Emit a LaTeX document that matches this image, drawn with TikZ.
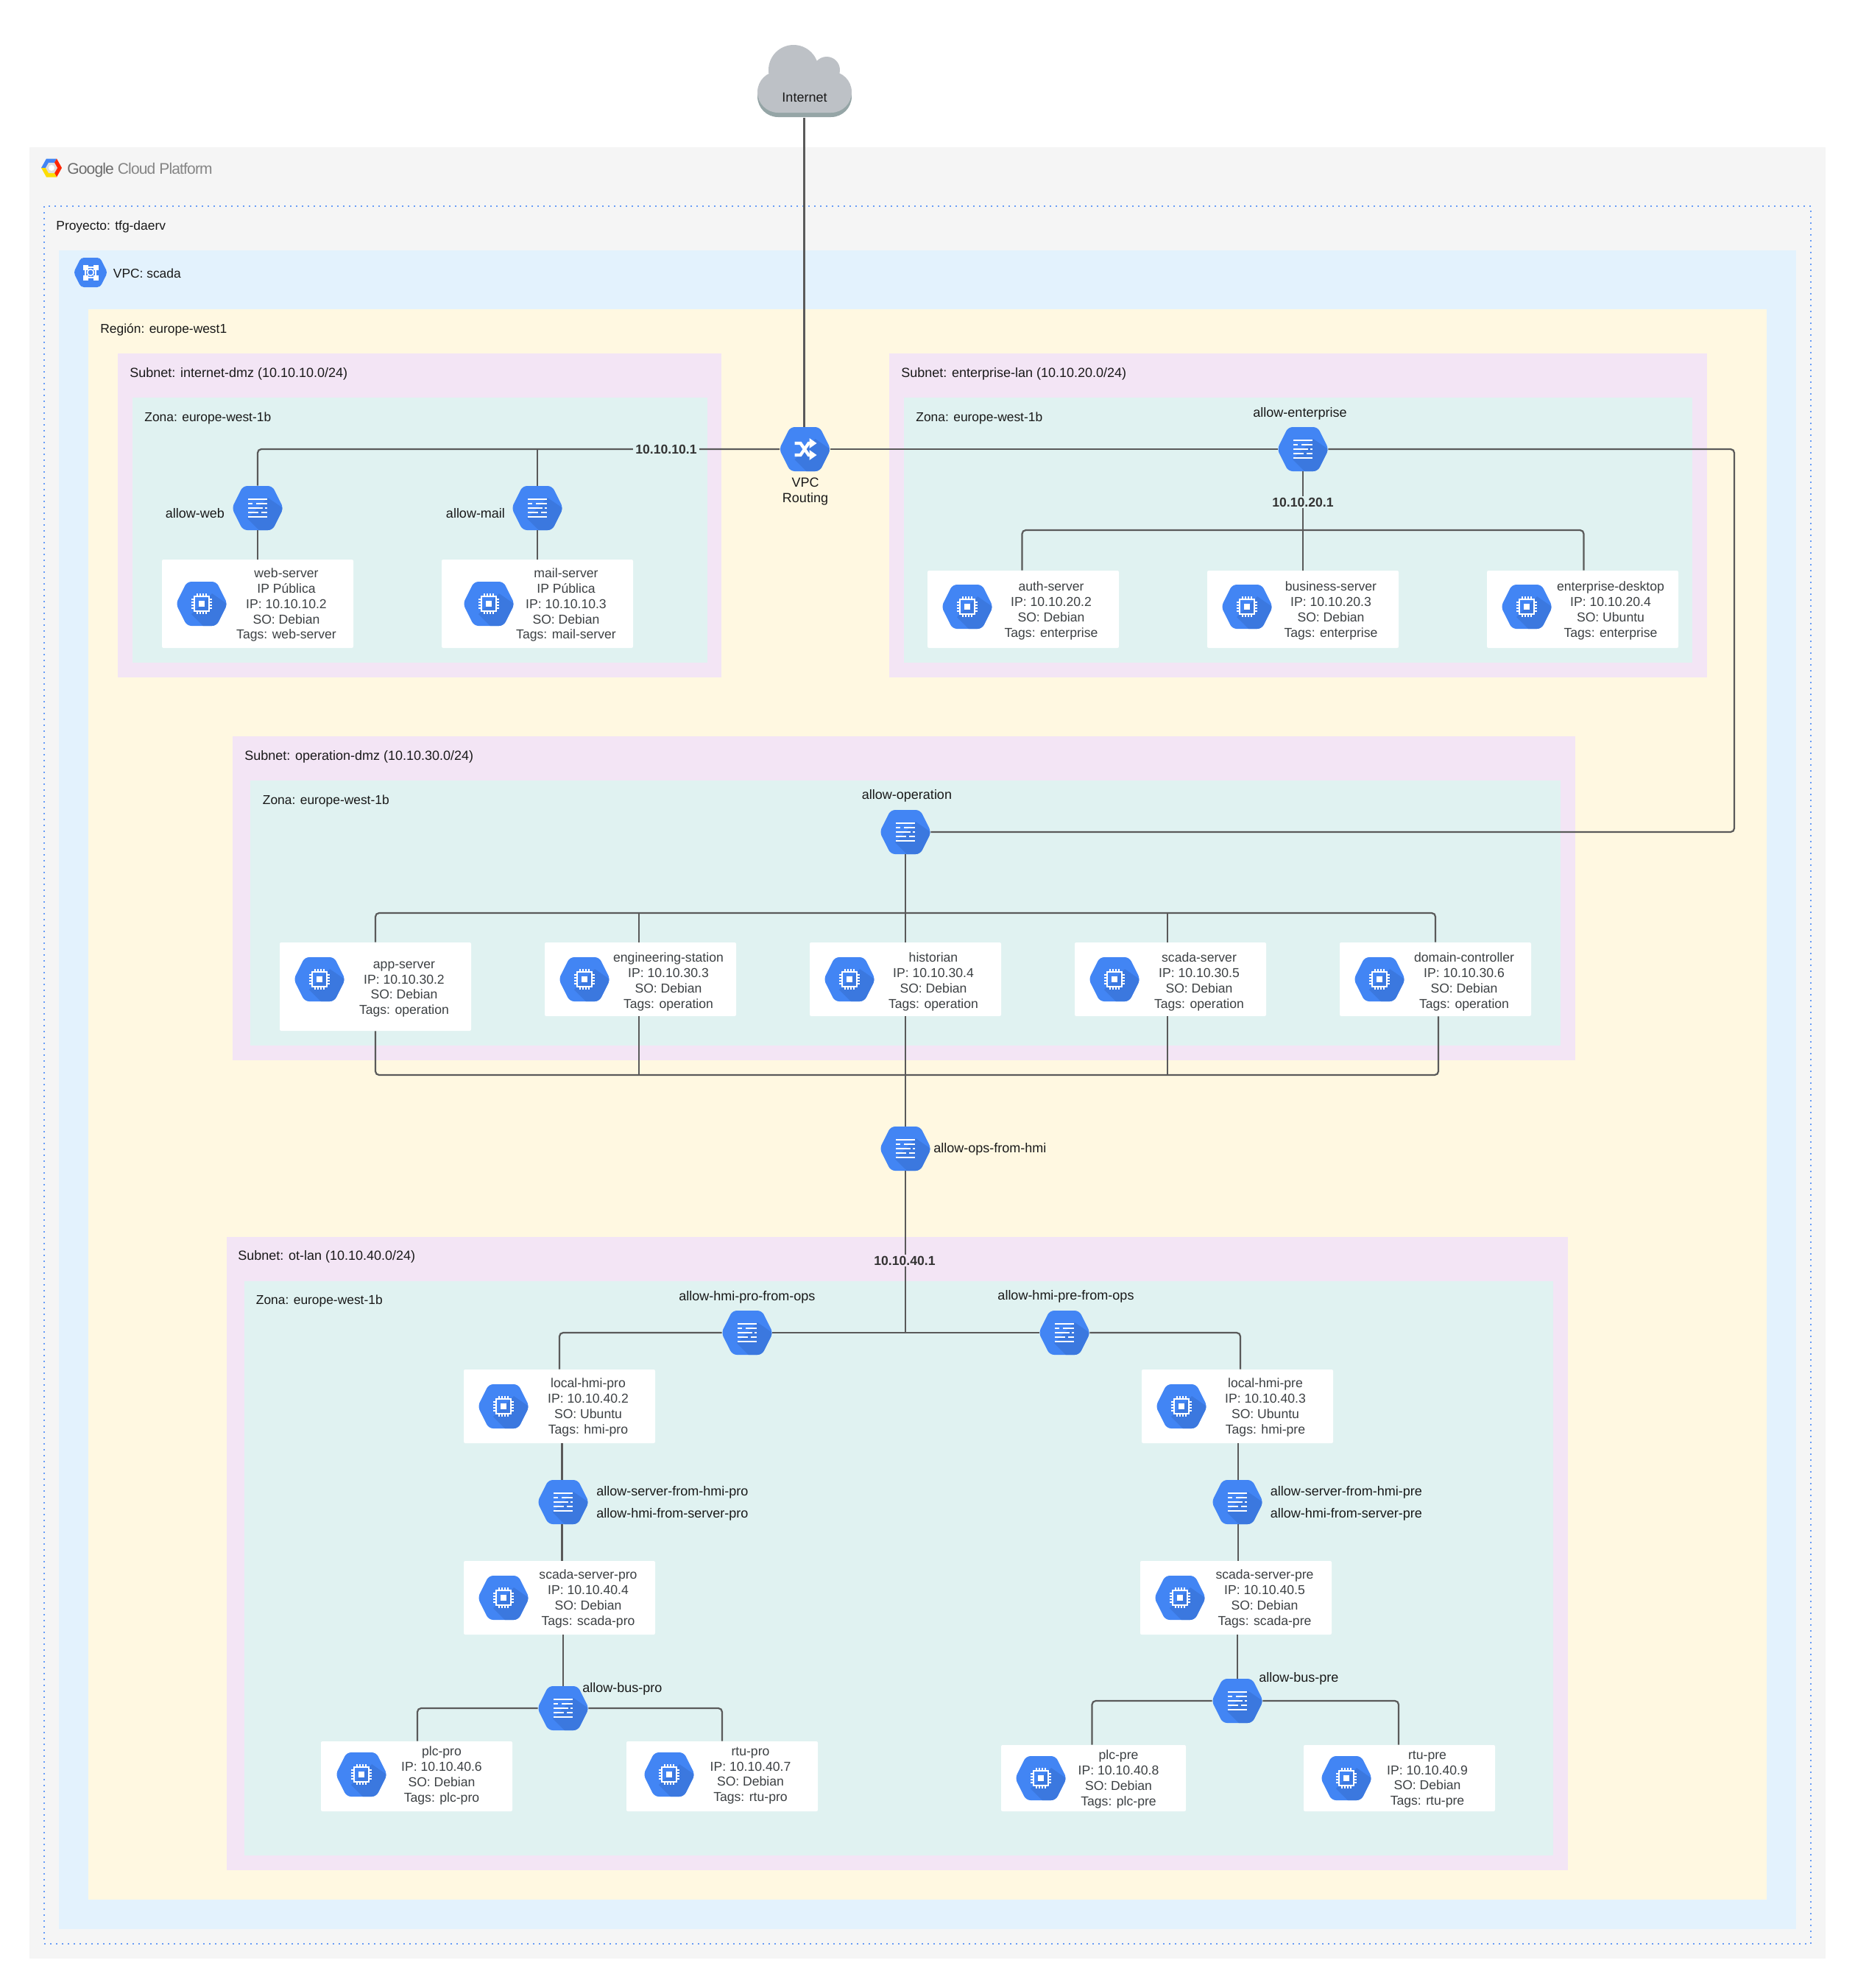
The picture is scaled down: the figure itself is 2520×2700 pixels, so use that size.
\documentclass[tikz,border=0pt]{standalone}
\usepackage{fontspec}
\setmainfont{Liberation Sans}
\usepackage{tikz}

\definecolor{gcpfill}{HTML}{F5F5F5}
\definecolor{vpcfill}{HTML}{E3F2FD}
\definecolor{regionfill}{HTML}{FFF8E1}
\definecolor{subnetfill}{HTML}{F3E5F5}
\definecolor{zonefill}{HTML}{E0F2F1}
\definecolor{hexblue}{HTML}{4285F4}
\definecolor{hexshade}{HTML}{3B78DF}
\definecolor{linkgray}{HTML}{5A5A5A}
\definecolor{srvgray}{HTML}{3C4043}
\definecolor{cloudgray}{HTML}{BDC1C6}
\definecolor{cloudshade}{HTML}{95A5A6}

\newcommand{\hexbody}{%
    \fill[hexblue, rounded corners=3pt] (-35,0) -- (-20,-30) -- (20,-30) -- (35,0) -- (20,30) -- (-20,30) -- cycle;
    \begin{scope}
        \clip[rounded corners=3pt] (-35,0) -- (-20,-30) -- (20,-30) -- (35,0) -- (20,30) -- (-20,30) -- cycle;
        \fill[hexshade] (-14,14) -- (2,30) -- (40,30) -- (40,4) -- (14,-14) -- cycle;
    \end{scope}}
\newcommand{\brickglyph}{%
    \foreach \a/\b/\r in {-13/13/-12, -13/-7/-6, -2/13/-6, -13/7/0, 10/13/0, -13/1/6, 5/13/6, -13/13/12} {\draw[white, line width=1.3pt] (\a,\r) -- (\b,\r);}}
\newcommand{\chipglyph}{%
    \draw[white, line width=.8pt] (-10,-10) rectangle (10,10);
    \fill[white] (-4,-4) rectangle (4,4);
    \foreach \p in {-6,-2,2,6} {\draw[white, line width=.6pt] (\p,-14) -- (\p,-10) (\p,10) -- (\p,14) (-14,\p) -- (-10,\p) (10,\p) -- (14,\p);}}
\newcommand{\routeglyph}{%
    \draw[white, line width=2.1pt] (-14,-8) -- (-6,-8) -- (5,8) -- (10,8);
    \draw[white, line width=2.1pt] (-14,8) -- (-6,8) -- (5,-8) -- (10,-8);
    \fill[white] (6,-15) -- (16,-8) -- (6,-1) -- cycle (6,1) -- (16,8) -- (6,15) -- cycle;}
\newcommand{\vpcglyph}{%
    \fill[hexblue, rounded corners=2pt] (-23,0) -- (-13,-20) -- (13,-20) -- (23,0) -- (13,20) -- (-13,20) -- cycle;
    \foreach \a in {-7,7} {\foreach \b in {-7,7} {\fill[white] (\a-3.5,\b-3.5) rectangle (\a+3.5,\b+3.5);}}
    \draw[white, line width=.8pt] (-7,-7) rectangle (7,7);
    \fill[white] (0,0) circle (2.6pt);
    \fill[hexblue] (0,0) circle (1.7pt);}

\begin{document}
\begin{tikzpicture}[x=0.5pt, y=-0.5pt,
    hexcell/.style={shape=rectangle, minimum width=34pt, minimum height=30pt, inner sep=0pt},
    brick/.style={hexcell, path picture={\begin{scope}[shift={(path picture bounding box.center)}]\hexbody\brickglyph\end{scope}}},
    chip/.style={hexcell, path picture={\begin{scope}[shift={(path picture bounding box.center)}]\hexbody\chipglyph\end{scope}}},
    route/.style={hexcell, path picture={\begin{scope}[shift={(path picture bounding box.center)}]\hexbody\routeglyph\end{scope}}},
    vpchex/.style={shape=rectangle, minimum width=23pt, minimum height=20pt, inner sep=0pt, path picture={\begin{scope}[shift={(path picture bounding box.center)}]\vpcglyph\end{scope}}},
    server/.style={shape=rectangle, fill=white, rounded corners=1pt, minimum width=130pt, minimum height=50pt, inner sep=0pt},
    srvtext/.style={align=center, inner sep=0pt, yshift=-.8pt, text=srvgray, font=\fontsize{8.8pt}{10.45pt}\selectfont},
    lbl/.style={inner sep=0pt, yshift=-.6pt, text=black!90, font=\fontsize{9pt}{10.6pt}\selectfont},
    lblwest/.style={lbl, anchor=west},
    zonetitle/.style={lblwest, font=\fontsize{8.7pt}{10.6pt}\selectfont},
    ipaddr/.style={inner xsep=1.5pt, inner ysep=1pt, text=black!80, font=\fontsize{8.8pt}{10.45pt}\selectfont\bfseries},
    link/.style={draw=linkgray, line width=1.1pt, rounded corners=2.5pt}]

    \useasboundingbox (0,0) rectangle (2520,2700);

    % Containers
    \fill[gcpfill] (40,200) rectangle (2480,2660);
    \draw[hexblue!80, line width=.75pt, dash pattern=on 1pt off 3pt] (60,280) rectangle (2460,2640);
    \fill[vpcfill] (80,340) rectangle (2440,2620);
    \fill[regionfill] (120,420) rectangle (2400,2580);
    \fill[subnetfill] (160,480) rectangle (980,920);
    \fill[zonefill] (180,540) rectangle (961,900);
    \fill[subnetfill] (1208,480) rectangle (2319,920);
    \fill[zonefill] (1228,540) rectangle (2299,900);
    \fill[subnetfill] (316,1000) rectangle (2140,1440);
    \fill[zonefill] (340,1060) rectangle (2120,1420);
    \fill[subnetfill] (308,1680) rectangle (2130,2540);
    \fill[zonefill] (332,1740) rectangle (2110,2520);

    % Logo
    \fill[hexblue] (56,228) -- (63,215.5) -- (77,215.5) -- (70,228) -- cycle;
    \fill[red!70!orange] (77,215.5) -- (84,228) -- (77,240.5) -- (70,228) -- cycle;
    \fill[yellow!80!orange] (56,228) -- (63,240.5) -- (77,240.5) -- (70,228) -- cycle;
    \fill[black!13] (62,228) -- (66,221) -- (74,221) -- (78,228) -- (74,235) -- (66,235) -- cycle;
    \fill[white] (70,228) circle (2pt);
    \node[lblwest, font=\fontsize{10.5pt}{12pt}\selectfont\addfontfeature{LetterSpace=-4}] (gcp-logo) at (91,230) {\textcolor{black!58}{Google} \textcolor{black!48}{Cloud Platform}};

    % Cloud
    \fill[cloudshade, rounded corners=14pt] (1029,103) rectangle (1157,159);
    \fill[cloudgray, rounded corners=14pt] (1029,97) rectangle (1157,153);
    \fill[cloudgray] (1078,95) circle (17pt) (1123,95) circle (9pt);
    \node[minimum width=60pt, minimum height=50pt, inner sep=0pt] (internet) at (1092.5,110) {};
    \node[lbl] (internet-text) at (1093,131) {Internet};

    % Container titles
    \node[zonetitle] (project-title) at (76,307) {Proyecto: tfg-daerv};
    \node[vpchex] (vpc-icon) at (123,370) {};
    \node[zonetitle] (vpc-title) at (153.5,370) {VPC: scada};
    \node[zonetitle] (region-title) at (136,447) {Región: europe-west1};
    \node[lblwest] (subnet-dmz-title) at (176,507) {Subnet: internet-dmz (10.10.10.0/24)};
    \node[zonetitle] (zone-dmz-title) at (196,567) {Zona: europe-west-1b};
    \node[lblwest] (subnet-ent-title) at (1224,507) {Subnet: enterprise-lan (10.10.20.0/24)};
    \node[zonetitle] (zone-ent-title) at (1244,567) {Zona: europe-west-1b};
    \node[lblwest] (subnet-ops-title) at (332,1027) {Subnet: operation-dmz (10.10.30.0/24)};
    \node[zonetitle] (zone-ops-title) at (356.5,1087) {Zona: europe-west-1b};
    \node[lblwest] (subnet-ot-title) at (323,1706) {Subnet: ot-lan (10.10.40.0/24)};
    \node[zonetitle] (zone-ot-title) at (347.5,1766) {Zona: europe-west-1b};

    % Routing
    \node[route] (vpc-routing) at (1093.5,610) {};
    \node[lbl, align=center] (vpc-routing-text) at (1094,666) {VPC\\Routing};

    % internet-dmz
    \node[brick] (allow-web) at (350,690) {};
    \node[lbl] (allow-web-text) at (265,696) {allow-web};
    \node[brick] (allow-mail) at (730,690) {};
    \node[lbl] (allow-mail-text) at (646,696) {allow-mail};
    \node[server, minimum height=60pt] (web-server) at (350,820) {};
    \node[chip] (web-server-icon) at (274,820) {};
    \node[srvtext] (web-server-text) at (389,820) {web-server\\IP Pública\\IP: 10.10.10.2\\SO: Debian\\Tags: web-server};
    \node[server, minimum height=60pt] (mail-server) at (730,820) {};
    \node[chip] (mail-server-icon) at (664,820) {};
    \node[srvtext] (mail-server-text) at (769,820) {mail-server\\IP Pública\\IP: 10.10.10.3\\SO: Debian\\Tags: mail-server};

    % enterprise-lan
    \node[brick] (allow-enterprise) at (1770,610) {};
    \node[lbl] (allow-enterprise-text) at (1766,561) {allow-enterprise};
    \node[server, minimum height=52.5pt] (auth-server) at (1390,827.5) {};
    \node[chip] (auth-server-icon) at (1314,824) {};
    \node[srvtext] (auth-server-text) at (1428,828) {auth-server\\IP: 10.10.20.2\\SO: Debian\\Tags: enterprise};
    \node[server, minimum height=52.5pt] (business-server) at (1770,827.5) {};
    \node[chip] (business-server-icon) at (1694,824) {};
    \node[srvtext] (business-server-text) at (1808,828) {business-server\\IP: 10.10.20.3\\SO: Debian\\Tags: enterprise};
    \node[server, minimum height=52.5pt] (enterprise-desktop) at (2150,827.5) {};
    \node[chip] (enterprise-desktop-icon) at (2074,824) {};
    \node[srvtext] (enterprise-desktop-text) at (2188,828) {enterprise-desktop\\IP: 10.10.20.4\\SO: Ubuntu\\Tags: enterprise};

    % operation-dmz
    \node[brick] (allow-operation) at (1230,1130) {};
    \node[lbl] (allow-operation-text) at (1232,1080) {allow-operation};
    \node[server, minimum height=60pt] (app-server) at (510,1340) {};
    \node[chip] (app-server-icon) at (434,1330) {};
    \node[srvtext] (app-server-text) at (549,1342) {app-server\\IP: 10.10.30.2\\SO: Debian\\Tags: operation};
    \node[server] (engineering-station) at (870,1330) {};
    \node[chip] (engineering-station-icon) at (794,1330) {};
    \node[srvtext] (engineering-station-text) at (908,1332) {engineering-station\\IP: 10.10.30.3\\SO: Debian\\Tags: operation};
    \node[server] (historian) at (1230,1330) {};
    \node[chip] (historian-icon) at (1154,1330) {};
    \node[srvtext] (historian-text) at (1268,1332) {historian\\IP: 10.10.30.4\\SO: Debian\\Tags: operation};
    \node[server] (scada-server) at (1590,1330) {};
    \node[chip] (scada-server-icon) at (1514,1330) {};
    \node[srvtext] (scada-server-text) at (1629,1332) {scada-server\\IP: 10.10.30.5\\SO: Debian\\Tags: operation};
    \node[server] (domain-controller) at (1950,1330) {};
    \node[chip] (domain-controller-icon) at (1874,1330) {};
    \node[srvtext] (domain-controller-text) at (1989,1332) {domain-controller\\IP: 10.10.30.6\\SO: Debian\\Tags: operation};

    % between subnets
    \node[brick] (allow-ops-from-hmi) at (1230,1560) {};
    \node[lblwest] (allow-ops-from-hmi-text) at (1268,1560) {allow-ops-from-hmi};

    % ot-lan
    \node[brick] (allow-hmi-pro) at (1015,1810) {};
    \node[lbl] (allow-hmi-pro-text) at (1015,1761) {allow-hmi-pro-from-ops};
    \node[brick] (allow-hmi-pre) at (1446,1810) {};
    \node[lbl] (allow-hmi-pre-text) at (1448,1759.5) {allow-hmi-pre-from-ops};
    \node[server] (local-hmi-pro) at (760,1910) {};
    \node[chip] (local-hmi-pro-icon) at (684,1910) {};
    \node[srvtext] (local-hmi-pro-text) at (799,1910) {local-hmi-pro\\IP: 10.10.40.2\\SO: Ubuntu\\Tags: hmi-pro};
    \node[server] (local-hmi-pre) at (1681,1910) {};
    \node[chip] (local-hmi-pre-icon) at (1605,1910) {};
    \node[srvtext] (local-hmi-pre-text) at (1719,1910) {local-hmi-pre\\IP: 10.10.40.3\\SO: Ubuntu\\Tags: hmi-pre};
    \node[brick] (allow-server-pro) at (765,2040) {};
    \node[lblwest] (allow-server-pro-text) at (810,2026) {allow-server-from-hmi-pro};
    \node[lblwest] (allow-hmi-server-pro-text) at (810,2055.5) {allow-hmi-from-server-pro};
    \node[brick] (allow-server-pre) at (1681,2040) {};
    \node[lblwest] (allow-server-pre-text) at (1725.5,2026) {allow-server-from-hmi-pre};
    \node[lblwest] (allow-hmi-server-pre-text) at (1725.5,2055.5) {allow-hmi-from-server-pre};
    \node[server] (scada-server-pro) at (760,2170) {};
    \node[chip] (scada-server-pro-icon) at (684,2170) {};
    \node[srvtext] (scada-server-pro-text) at (799,2170) {scada-server-pro\\IP: 10.10.40.4\\SO: Debian\\Tags: scada-pro};
    \node[server] (scada-server-pre) at (1679,2170) {};
    \node[chip] (scada-server-pre-icon) at (1603,2170) {};
    \node[srvtext] (scada-server-pre-text) at (1718,2170) {scada-server-pre\\IP: 10.10.40.5\\SO: Debian\\Tags: scada-pre};
    \node[brick] (allow-bus-pro) at (765,2320) {};
    \node[lblwest] (allow-bus-pro-text) at (791,2292.5) {allow-bus-pro};
    \node[brick] (allow-bus-pre) at (1681,2310) {};
    \node[lblwest] (allow-bus-pre-text) at (1710,2279) {allow-bus-pre};
    \node[server, minimum height=47.5pt] (plc-pro) at (566,2412.5) {};
    \node[chip] (plc-pro-icon) at (491,2410) {};
    \node[srvtext] (plc-pro-text) at (600,2410) {plc-pro\\IP: 10.10.40.6\\SO: Debian\\Tags: plc-pro};
    \node[server, minimum height=47.5pt] (rtu-pro) at (981,2412.5) {};
    \node[chip] (rtu-pro-icon) at (909,2410) {};
    \node[srvtext] (rtu-pro-text) at (1019.5,2410) {rtu-pro\\IP: 10.10.40.7\\SO: Debian\\Tags: rtu-pro};
    \node[server, minimum width=125.5pt, minimum height=45pt] (plc-pre) at (1485.5,2415) {};
    \node[chip] (plc-pre-icon) at (1414,2415) {};
    \node[srvtext] (plc-pre-text) at (1519.5,2415) {plc-pre\\IP: 10.10.40.8\\SO: Debian\\Tags: plc-pre};
    \node[server, minimum height=45pt] (rtu-pre) at (1901,2415) {};
    \node[chip] (rtu-pre-icon) at (1829,2415) {};
    \node[srvtext] (rtu-pre-text) at (1939,2415) {rtu-pre\\IP: 10.10.40.9\\SO: Debian\\Tags: rtu-pre};

    % Free ends
    \coordinate (ent-bar) at (1770,720);
    \coordinate (ops-relay) at (2356,870);
    \coordinate (ops-top) at (1230,1240);
    \coordinate (ops-bottom) at (1230,1460);
    \coordinate (ot-junction) at (1230,1810);

    % Connectors
    \draw[link] (internet.south) -- (internet.south |- vpc-routing.north);
    \draw[link] (vpc-routing.west) -| (allow-web.north);
    \draw[link] (allow-mail.north) -- (allow-mail.north |- vpc-routing.west);
    \draw[link] (allow-web.south) -- (web-server.north);
    \draw[link] (allow-mail.south) -- (mail-server.north);
    \draw[link] (vpc-routing.east) -- (allow-enterprise.west);
    \draw[link] (allow-enterprise.east) -| (ops-relay) |- (allow-operation.east);
    \draw[link] (allow-enterprise.south) -- (business-server.north);
    \draw[link] ([xshift=-.75pt]auth-server.north) |- (ent-bar) -| ([xshift=.75pt]enterprise-desktop.north);

    \draw[link] (allow-operation.south) -- (historian.north);
    \draw[link] (app-server.north) |- (ops-top) -| (domain-controller.north);
    \draw[link] ([xshift=-1pt]engineering-station.north) -- ([xshift=-1pt]engineering-station.north |- ops-top);
    \draw[link] ([xshift=-2pt]scada-server.north) -- ([xshift=-2pt]scada-server.north |- ops-top);
    \draw[link] (app-server.south) |- (ops-bottom) -| ([xshift=2pt]domain-controller.south);
    \draw[link] ([xshift=-1pt]engineering-station.south) -- ([xshift=-1pt]engineering-station.south |- ops-bottom);
    \draw[link] ([xshift=-2pt]scada-server.south) -- ([xshift=-2pt]scada-server.south |- ops-bottom);
    \draw[link] (historian.south) -- (allow-ops-from-hmi.north);

    \draw[link] (allow-ops-from-hmi.south) -- (ot-junction);
    \draw[link] (allow-hmi-pro.east) -- (allow-hmi-pre.west);
    \draw[link] (allow-hmi-pro.west) -| (local-hmi-pro.north);
    \draw[link] (allow-hmi-pre.east) -| ([xshift=2pt]local-hmi-pre.north);
    \draw[link] ([xshift=-.75pt]allow-server-pro.north) -- ([xshift=-.75pt]allow-server-pro.north |- local-hmi-pro.south);
    \draw[link] ([xshift=-.75pt]allow-server-pro.south) -- ([xshift=-.75pt]allow-server-pro.south |- scada-server-pro.north);
    \draw[link] ([xshift=.5pt]allow-server-pre.north) -- ([xshift=.5pt]allow-server-pre.north |- local-hmi-pre.south);
    \draw[link] ([xshift=.5pt]allow-server-pre.south) -- ([xshift=.5pt]allow-server-pre.south |- scada-server-pre.north);
    \draw[link] (allow-bus-pro.north) -- (allow-bus-pro.north |- scada-server-pro.south);
    \draw[link] (allow-bus-pre.north) -- (allow-bus-pre.north |- scada-server-pre.south);
    \draw[link] (allow-bus-pro.west) -| ([xshift=.5pt]plc-pro.north);
    \draw[link] (allow-bus-pro.east) -| (rtu-pro.north);
    \draw[link] (allow-bus-pre.west) -| ([xshift=-1pt]plc-pre.north);
    \draw[link] (allow-bus-pre.east) -| ([xshift=-.5pt]rtu-pre.north);

    % Addresses on the connectors
    \node[ipaddr, fill=zonefill] (gw-dmz) at (905,610) {10.10.10.1};
    \node[ipaddr, fill=zonefill] (gw-ent) at (1770,682) {10.10.20.1};
    \node[ipaddr, fill=subnetfill] (gw-ot) at (1229,1712) {10.10.40.1};

\end{tikzpicture}
\end{document}
